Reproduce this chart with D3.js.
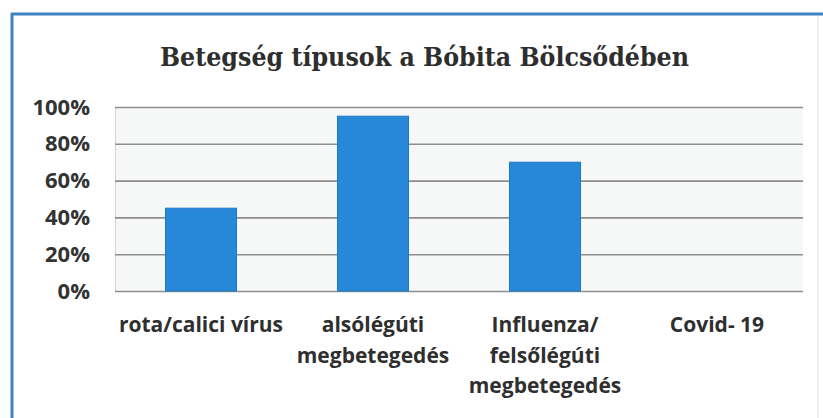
<!DOCTYPE html>
<html><head><meta charset="utf-8">
<script src="https://cdn.jsdelivr.net/npm/d3@7"></script>
<style>body{margin:0;background:#fff;} svg{display:block}</style>
</head><body>
<svg id="c" width="823" height="418"></svg>
<script>
const title = "Betegség típusok a Bóbita Bölcsődében";
const categories = ["rota/calici vírus", "alsólégúti|megbetegedés", "Influenza/|felsőlégúti|megbetegedés", "Covid- 19"];
const values = [0.45, 0.95, 0.70, 0];
const yTicks = [0, 0.2, 0.4, 0.6, 0.8, 1.0];
const yTickLabels = ["0%", "20%", "40%", "60%", "80%", "100%"];

const svg = d3.select("#c");
const W = 823, H = 418;
const m = {left: 115, right: 803, top: 107, bottom: 291};

// frame
svg.append("rect").attr("x", 0).attr("y", 0).attr("width", W).attr("height", H).attr("fill", "#fff");
svg.append("line").attr("x1", 11).attr("x2", W).attr("y1", 14).attr("y2", 14)
  .attr("stroke", "#3f83c6").attr("stroke-width", 3);
svg.append("line").attr("x1", 12).attr("x2", 12).attr("y1", 13).attr("y2", H)
  .attr("stroke", "#3f83c6").attr("stroke-width", 3);
svg.append("line").attr("x1", 818).attr("x2", 818).attr("y1", 16).attr("y2", H)
  .attr("stroke", "#e6ecf2").attr("stroke-width", 1.5);

const x = d3.scaleBand().domain(categories).range([m.left, m.right])
  .paddingInner(0.587).paddingOuter(0.2935);
const y = d3.scaleLinear().domain([0, 1]).range([m.bottom, m.top]);

// plot background
svg.append("rect").attr("x", m.left).attr("y", m.top).attr("width", m.right - m.left)
  .attr("height", m.bottom - m.top).attr("fill", "#f6f8f8");

// title
svg.append("text").attr("x", 424.5).attr("y", 66).attr("text-anchor", "middle")
  .attr("font-family", "'DejaVu Serif', 'Liberation Serif', serif").attr("font-weight", "bold")
  .attr("font-size", 26.5).attr("fill", "#2e2e2e")
  .attr("textLength", 529).attr("lengthAdjust", "spacingAndGlyphs").text(title);

// y axis with gridlines
const yAxis = d3.axisLeft(y).tickValues(yTicks).tickSize(-(m.right - m.left)).tickPadding(25)
  .tickFormat((d, i) => yTickLabels[i]);
const gy = svg.append("g").attr("transform", `translate(${m.left},0)`).call(yAxis);
gy.select(".domain").attr("stroke", "#d4d4d4").attr("stroke-width", 1);
gy.selectAll(".tick line").attr("stroke", "#8e8e8e").attr("stroke-width", 1.6);
gy.selectAll(".tick text").attr("font-family", "'Open Sans', Lato, sans-serif").attr("font-weight", "bold")
  .attr("font-size", 22).attr("fill", "#333");

// bars
svg.append("g").selectAll("rect").data(values).join("rect")
  .attr("x", (d, i) => x(categories[i]))
  .attr("y", d => y(d))
  .attr("width", x.bandwidth())
  .attr("height", d => y(0) - y(d))
  .attr("fill", "#2787d8")
  .attr("stroke", "#1f78c6").attr("stroke-width", 1);

// category labels
const gx = svg.append("g");
categories.forEach(c => {
  const lines = c.split("|");
  const t = gx.append("text").attr("text-anchor", "middle")
    .attr("font-family", "'Open Sans', Lato, sans-serif").attr("font-weight", "bold")
    .attr("font-size", 21).attr("fill", "#2f2f2f");
  lines.forEach((ln, j) => {
    t.append("tspan").attr("x", x(c) + x.bandwidth() / 2).attr("y", 332 + j * 30.5).text(ln);
  });
});
</script>
</body></html>
